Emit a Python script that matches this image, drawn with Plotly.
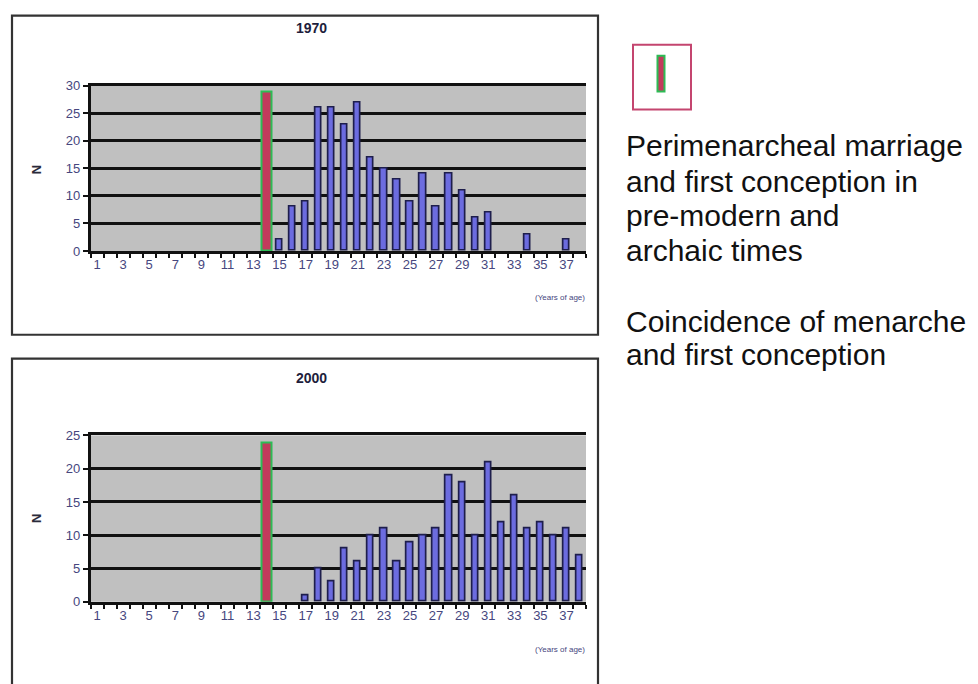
import plotly.graph_objects as go

# ---------------- data ----------------
ages = list(range(1, 39))
tick_ages = list(range(1, 39, 2))
n_1970 = [0] * 14 + [2, 8, 9, 26, 26, 23, 27, 17, 15, 13, 9, 14, 8, 14, 11, 6, 7, 0, 0, 3, 0, 0, 2, 0]
n_2000 = [0] * 16 + [1, 5, 3, 8, 6, 10, 11, 6, 9, 10, 11, 19, 18, 10, 21, 12, 16, 11, 12, 10, 11, 7]
menarche_age = [14]
menarche_1970 = [29]
menarche_2000 = [24]
panel_titles = ["1970", "2000"]
y_max = [30, 25]

# ---------------- layout helpers ----------------
W, H = 978, 684


def fx(x):
    # target screen x (pixels) -> paper fraction
    return (x - 8) / W


def fy(y):
    # target screen y (pixels) -> paper fraction
    ys = (y - 14.15) / 0.9815
    return 1 - ys / H


BAR_FILL = "#6c6ce0"
BAR_LINE = "#1e1e4c"
RED_FILL = "#c23a5c"
GREEN = "#2dbb55"
TICK_COLOR = "#46467e"
FONT = "Liberation Sans, Arial"

fig = go.Figure()

panels = [
    dict(vals=n_1970, hl=menarche_1970, xa="x", ya="y", top=85, bot=251, title_y=27, note_y=298, n_y=170),
    dict(vals=n_2000, hl=menarche_2000, xa="x2", ya="y2", top=436, bot=603, title_y=378, note_y=651, n_y=520),
]

annotations = []
shapes = []
for i, p in enumerate(panels):
    vals = [v if v > 0 else None for v in p["vals"]]
    fig.add_trace(go.Bar(
        x=ages, y=vals, xaxis=p["xa"], yaxis=p["ya"], width=0.48,
        marker=dict(color=BAR_FILL, line=dict(color=BAR_LINE, width=1.7)),
        showlegend=False, hoverinfo="x+y",
    ))
    fig.add_trace(go.Bar(
        x=menarche_age, y=p["hl"], xaxis=p["xa"], yaxis=p["ya"], width=0.8,
        marker=dict(color=RED_FILL, line=dict(color=GREEN, width=2)),
        showlegend=False, hoverinfo="x+y",
    ))
    suffix = "" if i == 0 else "2"
    fig.layout["xaxis" + suffix] = dict(
        domain=[fx(90.5), fx(586)], range=[0.5, 38.5],
        anchor="y" + suffix,
        tickmode="array", tickvals=tick_ages, ticktext=[str(t) for t in tick_ages],
        ticks="", showgrid=False, zeroline=False,
        showline=True, linecolor="#111111", linewidth=2.5, mirror=True,
        tickfont=dict(family=FONT, size=13, color=TICK_COLOR),
        minor=dict(ticks="outside", tick0=0.5, dtick=1, ticklen=4, tickwidth=2, tickcolor="#111111"),
        fixedrange=True,
    )
    fig.layout["yaxis" + suffix] = dict(
        domain=[fy(p["bot"]), fy(p["top"])], range=[0, y_max[i]],
        anchor="x" + suffix, tickmode="linear", tick0=0, dtick=5,
        ticks="outside", ticklen=5, tickwidth=2, tickcolor="#111111",
        showgrid=True, gridcolor="#111111", gridwidth=2.6, zeroline=False,
        showline=True, linecolor="#111111", linewidth=2.5,
        tickfont=dict(family=FONT, size=13, color=TICK_COLOR),
        fixedrange=True,
    )
    annotations.append(dict(
        text="<b>" + panel_titles[i] + "</b>", x=fx(311), y=fy(p["title_y"]),
        xref="paper", yref="paper", showarrow=False, xanchor="center", yanchor="middle",
        font=dict(family=FONT, size=14, color="#1e1e3c"),
    ))
    annotations.append(dict(
        text="<b>N</b>", x=fx(36), y=fy(p["n_y"]), textangle=-90,
        xref="paper", yref="paper", showarrow=False, xanchor="center", yanchor="middle",
        font=dict(family=FONT, size=13, color="#2a2a3a"),
    ))
    annotations.append(dict(
        text="(Years of age)", x=fx(587), y=fy(p["note_y"]),
        xref="paper", yref="paper", showarrow=False, xanchor="right", yanchor="middle",
        font=dict(family=FONT, size=8, color=TICK_COLOR),
    ))

# outer frames of the two chart panels
shapes.append(dict(type="rect", xref="paper", yref="paper",
                   x0=fx(12), x1=fx(598), y0=fy(335), y1=min(fy(8), 0.999),
                   line=dict(color="#333333", width=2.2), fillcolor="rgba(0,0,0,0)", layer="below"))
shapes.append(dict(type="rect", xref="paper", yref="paper",
                   x0=fx(12), x1=fx(598), y0=fy(720), y1=fy(359),
                   line=dict(color="#333333", width=2.2), fillcolor="rgba(0,0,0,0)", layer="below"))

# legend glyph on the right
shapes.append(dict(type="rect", xref="paper", yref="paper",
                   x0=fx(633), x1=fx(691), y0=fy(109), y1=fy(44),
                   line=dict(color="#c4456f", width=2), fillcolor="rgba(0,0,0,0)"))
shapes.append(dict(type="rect", xref="paper", yref="paper",
                   x0=fx(657.5), x1=fx(664.5), y0=fy(91), y1=fy(55),
                   line=dict(color=GREEN, width=2), fillcolor=RED_FILL))

text_lines = [
    ("Perimenarcheal marriage", 145),
    ("and first conception in", 181),
    ("pre-modern and", 215),
    ("archaic times", 250),
    ("Coincidence of menarche", 322),
    ("and first conception", 355),
]
for t, yy in text_lines:
    annotations.append(dict(
        text=t, x=fx(624), y=fy(yy), xref="paper", yref="paper", showarrow=False,
        xanchor="left", yanchor="middle",
        font=dict(family=FONT, size=30, color="#111111"),
    ))

fig.update_layout(
    width=W, height=H, margin=dict(l=0, r=0, t=0, b=0),
    paper_bgcolor="white", plot_bgcolor="#c0c0c0",
    barmode="overlay", bargap=0, showlegend=False,
    annotations=annotations, shapes=shapes,
)

fig.write_html("out.html")
